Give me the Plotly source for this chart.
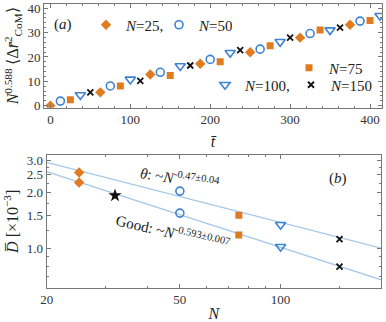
import plotly.graph_objects as go

# ---------------- data: panel (a) ----------------
t_N25 = [0, 62.5, 125, 187.5, 250, 312.5, 375]
y_N25 = [0, 5.5, 12.8, 17.2, 21.9, 27.9, 33.2]
t_N50 = [12.5, 75, 137.5, 200, 262.5, 325, 387.5]
y_N50 = [1.9, 8.1, 13.7, 19.0, 23.2, 29.6, 34.7]
t_N75 = [25, 87.5, 150, 212.5, 275, 337.5, 400]
y_N75 = [2.5, 8.1, 12.4, 18.0, 24.6, 31.0, 34.9]
t_N100 = [37.5, 100, 162.5, 225, 287.5, 350, 412.5]
y_N100 = [4.4, 10.8, 16.3, 21.7, 26.2, 31.0, 36.9]
t_N150 = [50, 112.5, 175, 237.5, 300, 362.5]
y_N150 = [5.5, 10.2, 16.5, 22.8, 27.9, 32.0]

# ---------------- data: panel (b) ----------------
b_N25 = [25, 25]
b_D25 = [2.57, 2.27]
b_Nstar = [32]
b_Dstar = [1.93]
b_N50 = [50, 50]
b_D50 = [2.04, 1.55]
b_N75 = [75, 75]
b_D75 = [1.51, 1.18]
b_N100 = [100, 100]
b_D100 = [1.34, 1.02]
b_N150 = [150, 150]
b_D150 = [1.12, 0.795]

theta_fit_N = [20, 200]
theta_fit_D = [2.92, 1.0]
good_fit_N = [20, 200]
good_fit_D = [2.60, 0.674]

a_xticks = [0, 100, 200, 300, 400]
a_yticks = [0, 10, 20, 30, 40]
b_xticks = [20, 50, 100]
b_yticks = [1.0, 1.5, 2.0, 2.5, 3.0]
b_xminor = [30, 40, 60, 70, 80, 90, 150, 200]
b_yminor = [0.7, 0.8, 0.9, 1.25, 1.75, 2.25, 2.75]

ORANGE = "#e07b1f"
BLUE = "#3d83d2"
BLACK = "#111111"
LINE = "#a6c8ea"
SERIF = "Liberation Serif"

fig = go.Figure()

def add_a(x, y, name, symbol, color, size, legend, lw=1.6):
    fig.add_trace(go.Scatter(
        x=x, y=y, mode="markers", name=name, legend=legend,
        marker=dict(symbol=symbol, color=color, size=size,
                    line=dict(color=color, width=lw)),
        xaxis="x", yaxis="y"))

add_a(t_N25, y_N25, "<i>N</i>=25,", "diamond", ORANGE, 8, "legend", 0)
add_a(t_N50, y_N50, "<i>N</i>=50", "circle-open", BLUE, 8, "legend")
add_a(t_N75, y_N75, "<i>N</i>=75", "square", ORANGE, 7, "legend2", 0)
add_a(t_N100, y_N100, "<i>N</i>=100,", "triangle-down-open", BLUE, 9, "legend3")
add_a(t_N150, y_N150, "<i>N</i>=150", "x-thin-open", BLACK, 6, "legend3", 1.8)

# panel (b) fit lines
for xs, ys in [(theta_fit_N, theta_fit_D), (good_fit_N, good_fit_D)]:
    fig.add_trace(go.Scatter(x=xs, y=ys, mode="lines", showlegend=False,
                             line=dict(color=LINE, width=1.3),
                             xaxis="x2", yaxis="y2"))

def add_b(x, y, symbol, color, size, lw=1.6):
    fig.add_trace(go.Scatter(
        x=x, y=y, mode="markers", showlegend=False,
        marker=dict(symbol=symbol, color=color, size=size,
                    line=dict(color=color, width=lw)),
        xaxis="x2", yaxis="y2"))

add_b(b_N25, b_D25, "diamond", ORANGE, 8, 0)
add_b(b_Nstar, b_Dstar, "star", BLACK, 10, 0)
add_b(b_N50, b_D50, "circle-open", BLUE, 8)
add_b(b_N75, b_D75, "square", ORANGE, 7, 0)
add_b(b_N100, b_D100, "triangle-down-open", BLUE, 9)
add_b(b_N150, b_D150, "x-thin-open", BLACK, 6, 1.8)

FRAME = "#777777"
tickfont = dict(family=SERIF, size=13, color="#333333")
common = dict(showline=True, linecolor=FRAME, linewidth=1, mirror="ticks",
              ticks="inside", ticklen=4, tickcolor=FRAME, showgrid=False,
              zeroline=False, tickfont=tickfont, automargin=False)
legfont = dict(family=SERIF, size=15, color="#222")

fig.update_layout(
    width=386, height=322,
    margin=dict(l=0, r=0, t=0, b=0),
    paper_bgcolor="white", plot_bgcolor="white",
    xaxis=dict(domain=[44/386, 382/386], anchor="y", range=[-8, 415],
               tickvals=a_xticks,
               minor=dict(ticks="inside", ticklen=2, tickcolor=FRAME, dtick=20),
               title=dict(text="<i>t̄</i>", font=dict(family=SERIF, size=16, color="#222"), standoff=9),
               **common),
    yaxis=dict(domain=[1-107.7/322, 1-4/322], anchor="x", range=[-0.8, 41.7],
               tickvals=a_yticks,
               minor=dict(ticks="inside", ticklen=2, tickcolor=FRAME, dtick=2),
               title=dict(text="<i>N</i><sup>0.588</sup> ⟨Δ<i>r̄</i><sup>2</sup><sub>CoM</sub>⟩",
                          font=dict(family=SERIF, size=16, color="#222"), standoff=4),
               **common),
    xaxis2=dict(domain=[46.7/386, 381/386], anchor="y2", type="log",
                range=[1.30103, 2.3], tickvals=b_xticks, ticktext=["20", "50", "100"],
                minor=dict(ticks="inside", ticklen=2, tickcolor=FRAME, tickvals=b_xminor),
                title=dict(text="<i>N</i>", font=dict(family=SERIF, size=16, color="#222"), standoff=16),
                **common),
    yaxis2=dict(domain=[1-287.7/322, 1-155/322], anchor="x2", type="log",
                range=[-0.2135, 0.505], tickvals=b_yticks,
                ticktext=["1.0", "1.5", "2.0", "2.5", "3.0"],
                minor=dict(ticks="inside", ticklen=2, tickcolor=FRAME, tickvals=b_yminor),
                title=dict(text="<i>D̅</i> [×10<sup>−3</sup>]",
                           font=dict(family=SERIF, size=16, color="#222"), standoff=4),
                **common),
    legend=dict(orientation="h", x=86/386, y=1-25/322, xanchor="left", yanchor="middle",
                font=legfont, bgcolor="rgba(0,0,0,0)", entrywidth=28),
    legend2=dict(orientation="h", x=289/386, y=1-68/322, xanchor="left", yanchor="middle",
                 font=legfont, bgcolor="rgba(0,0,0,0)"),
    legend3=dict(orientation="h", x=205/386, y=1-85/322, xanchor="left", yanchor="middle",
                 font=legfont, bgcolor="rgba(0,0,0,0)", entrywidth=41),
    annotations=[
        dict(text="(<i>a</i>)", xref="paper", yref="paper", x=63/386, y=1-25/322,
             xanchor="center", yanchor="middle",
             showarrow=False, font=dict(family=SERIF, size=15, color="#222")),
        dict(text="(<i>b</i>)", xref="paper", yref="paper", x=338/386, y=1-178/322,
             xanchor="center", yanchor="middle",
             showarrow=False, font=dict(family=SERIF, size=15, color="#222")),
        dict(text="<i>θ</i>: ~<i>N</i><sup>-0.47±0.04</sup>", xref="paper", yref="paper",
             x=180/386, y=1-178/322, xanchor="center", yanchor="middle",
             showarrow=False, textangle=9,
             font=dict(family=SERIF, size=15, color="#222")),
        dict(text="Good: ~<i>N</i><sup>-0.593±0.007</sup>", xref="paper", yref="paper",
             x=173/386, y=1-232/322, xanchor="center", yanchor="middle",
             showarrow=False, textangle=13,
             font=dict(family=SERIF, size=15, color="#222")),
    ],
)

fig.write_html("out.html")
